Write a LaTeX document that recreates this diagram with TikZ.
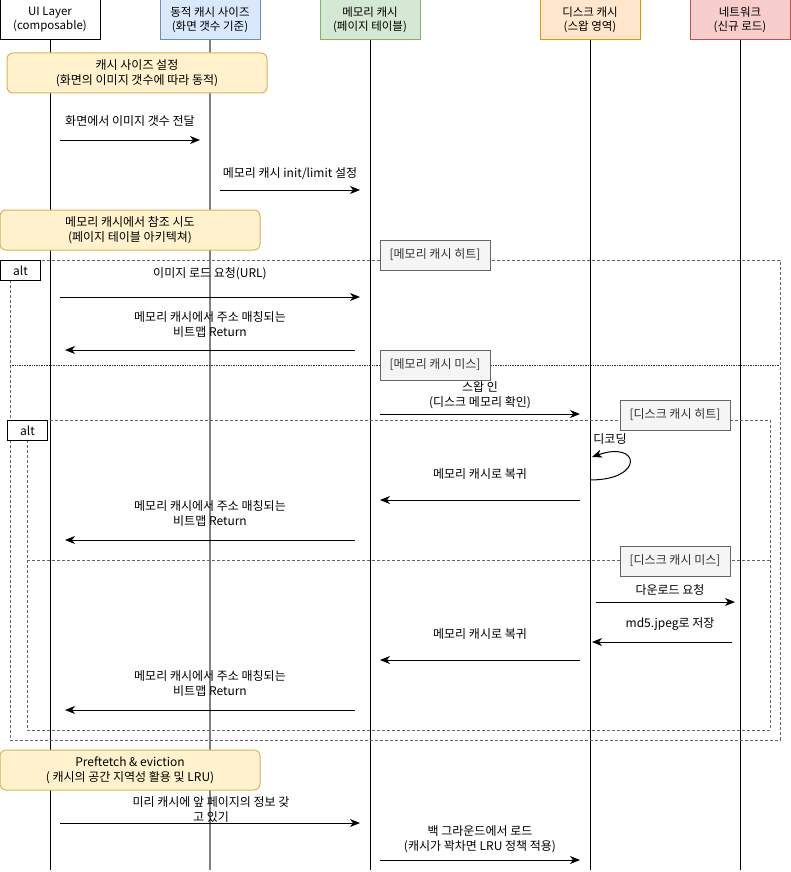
\documentclass[tikz,border=0pt]{standalone}
\usepackage{fontspec}
\setmainfont{Noto Sans CJK KR}
\usetikzlibrary{arrows.meta}

\definecolor{blueF}{HTML}{DAE8FC}\definecolor{blueD}{HTML}{6C8EBF}
\definecolor{greenF}{HTML}{D5E8D4}\definecolor{greenD}{HTML}{82B366}
\definecolor{orangeF}{HTML}{FFE6CC}\definecolor{orangeD}{HTML}{D79B00}
\definecolor{redF}{HTML}{F8CECC}\definecolor{redD}{HTML}{B85450}
\definecolor{noteF}{HTML}{FFF2CC}\definecolor{noteD}{HTML}{D6B656}
\definecolor{guardF}{HTML}{F5F5F5}\definecolor{guardD}{HTML}{666666}

\tikzset{
  partbox/.style={draw, line width=1pt, minimum width=100pt, minimum height=40pt,
    inner sep=0pt, align=center, font=\fontsize{11.5}{14}\selectfont},
  life/.style={line width=1pt},
  notebox/.style={draw=noteD, fill=noteF, rounded corners=6pt, line width=1pt,
    minimum width=260pt, minimum height=40pt, inner sep=0pt, align=center},
  guardbox/.style={draw=guardD, fill=guardF, text=black!80, line width=1pt,
    minimum width=110pt, minimum height=30pt, inner sep=0pt},
  altbox/.style={draw, fill=white, line width=1pt, minimum width=40pt,
    minimum height=20pt, inner sep=0pt},
  altframe/.style={draw=black!60, densely dashed, line width=0.7pt},
  msg/.style={line width=1pt, -{Stealth[length=10pt,width=8pt,inset=3pt]}},
  lbl/.style={align=center, inner sep=0pt}
}

\begin{document}
\begin{tikzpicture}[x=1pt, y=-1pt, font=\fontsize{12}{15}\selectfont]
\useasboundingbox (0,0) rectangle (791,872);

% lifelines
\foreach \n/\x/\f/\d/\t in {
    ui/50/white/black/{UI Layer\\(composable)},
    dyn/210/blueF/blueD/{동적 캐시 사이즈\\(화면 갯수 기준)},
    mem/370/greenF/greenD/{메모리 캐시\\(페이지 테이블)},
    disk/590/orangeF/orangeD/{디스크 캐시\\(스왑 영역)},
    net/740/redF/redD/{네트워크\\(신규 로드)}} {
  \node[partbox, fill=\f, draw=\d] (\n) at (\x,20) {\t};
  \coordinate (\n-end) at (\x,870);
}
\draw[life] (ui) -- (ui-end);
\draw[life, draw=gray, line width=1.3pt] (dyn) -- (dyn-end);
\draw[life] (mem) -- (mem-end);
\draw[life] (disk) -- (disk-end);
\draw[life] (net) -- (net-end);

% alt frames
\draw[altframe] (10,260) rectangle (780,740);
\draw[altframe, densely dotted, draw=black!80] (10,365) -- (780,365);
\node[altbox, anchor=north west] (alt1) at (0,260) {alt};
\draw[altframe] (27,420) rectangle (770,730);
\draw[altframe] (27,560) -- (770,560);
\node[altbox, anchor=north west] (alt2) at (7,420) {alt};

% guards
\node[guardbox] (g1) at (435,255) {[메모리 캐시 히트]};
\node[guardbox] (g2) at (435,365) {[메모리 캐시 미스]};
\node[guardbox] (g3) at (675,415) {[디스크 캐시 히트]};
\node[guardbox] (g4) at (675,561) {[디스크 캐시 미스]};

% notes
\node[notebox] (n1) at (137,73) {캐시 사이즈 설정\\(화면의 이미지 갯수에 따라 동적)};
\node[notebox] (n2) at (130,230) {메모리 캐시에서 참조 시도\\(페이지 테이블 아키텍쳐)};
\node[notebox] (n3) at (130,770) {Preftetch \& eviction\\( 캐시의 공간 지역성 활용 및 LRU)};

% messages
\foreach \n/\y/\a/\b in {m1/140/60/200, m2/190/220/360, m3/297/60/360,
    m4/350/355/65, m5/414/380/580, m7/500/580/380, m8/540/355/65,
    m9/602/596/735, m10/642/732/592, m11/660/580/380, m12/710/355/65,
    m13/823/60/360, m14/860/380/580} {
  \coordinate (\n-a) at (\a,\y);
  \coordinate (\n-b) at (\b,\y);
  \draw[msg] (\n-a) -- (\n-b);
}
\coordinate (m6-a) at (590,480);
\coordinate (m6-b) at (592,457);
\draw[msg] (m6-a) .. controls (645,480) and (640,440) .. (m6-b);

% labels
\node[lbl] (l1) at (130,121) {화면에서 이미지 갯수 전달};
\node[lbl] (l2) at (290,174) {메모리 캐시 init/limit 설정};
\node[lbl] (l3) at (210,274) {이미지 로드 요청(URL)};
\node[lbl] (l4) at (210,325) {메모리 캐시에서 주소 매칭되는\\비트맵 Return};
\node[lbl] (l5) at (480,395) {스왑 인\\(디스크 메모리 확인)};
\node[lbl] (l6) at (610,439) {디코딩};
\node[lbl] (l7) at (480,474) {메모리 캐시로 복귀};
\node[lbl] (l8) at (210,514) {메모리 캐시에서 주소 매칭되는\\비트맵 Return};
\node[lbl] (l9) at (670,590) {다운로드 요청};
\node[lbl] (l10) at (670,624) {md5.jpeg로 저장};
\node[lbl] (l11) at (480,634) {메모리 캐시로 복귀};
\node[lbl] (l12) at (210,684) {메모리 캐시에서 주소 매칭되는\\비트맵 Return};
\node[lbl] (l13) at (211,809) {미리 캐시에 앞 페이지의 정보 갖\\고 있기};
\node[lbl] (l14) at (480,839) {백 그라운드에서 로드\\(캐시가 꽉차면 LRU 정책 적용)};
\end{tikzpicture}
\end{document}
